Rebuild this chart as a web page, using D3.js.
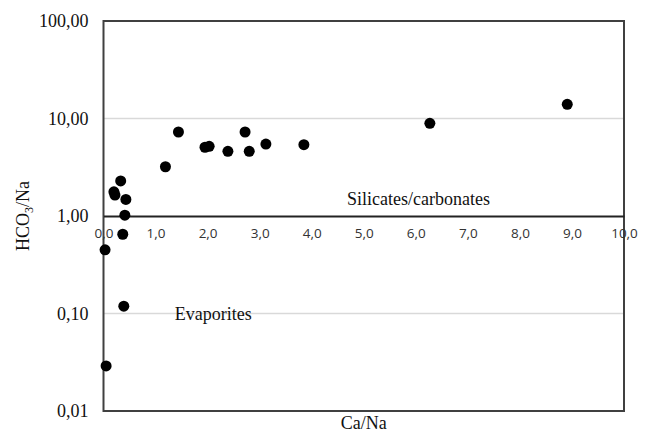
<!DOCTYPE html>
<html>
<head>
<meta charset="utf-8">
<script src="https://cdn.jsdelivr.net/npm/d3@7"></script>
<style>
  html, body { margin: 0; padding: 0; background: #fff; }
  svg { display: block; }
</style>
</head>
<body>
<svg id="chart" width="646" height="432"></svg>
<script>
// Ca/Na ratio of each sample
const caNa = [0.20, 0.22, 0.33, 0.43, 0.41, 0.37, 0.03, 0.39, 0.05, 1.19,
              1.44, 1.95, 2.03, 2.39, 2.72, 2.80, 3.12, 3.85, 6.27, 8.91];
// HCO3/Na ratio of each sample
const hco3Na = [1.77, 1.64, 2.29, 1.48, 1.02, 0.65, 0.45, 0.119, 0.029, 3.20,
                7.27, 5.07, 5.19, 4.61, 7.27, 4.61, 5.47, 5.39, 8.93, 13.99];
const xTicks = [0, 1, 2, 3, 4, 5, 6, 7, 8, 9, 10];
const yTicks = [0.01, 0.1, 1, 10, 100];
const regionLabels = [
  { text: "Silicates/carbonates", x: 4.68, y: 1.5 },
  { text: "Evaporites", x: 1.37, y: 0.1 }
];

const svg = d3.select("#chart");
const plotLeft = 103.5, plotRight = 624, plotTop = 21, plotBottom = 411;

const x = d3.scaleLinear().domain([0, 10]).range([plotLeft, plotRight]);
const y = d3.scaleLog().domain([0.01, 100]).range([plotBottom, plotTop]);

const comma = v => v.toFixed(1).replace(".", ",");
const comma2 = v => v.toFixed(2).replace(".", ",");

// light gridlines
svg.append("g")
  .selectAll("line")
  .data([0.1, 10])
  .join("line")
  .attr("x1", plotLeft).attr("x2", plotRight)
  .attr("y1", d => y(d)).attr("y2", d => y(d))
  .attr("stroke", "#d9d9d9").attr("stroke-width", 1.5);

// plot frame
svg.append("rect")
  .attr("x", plotLeft).attr("y", plotTop)
  .attr("width", plotRight - plotLeft).attr("height", plotBottom - plotTop)
  .attr("fill", "none").attr("stroke", "#404040").attr("stroke-width", 2);

// y axis (log) labels
const yAxis = d3.axisLeft(y).tickValues(yTicks).tickFormat(comma2).tickSize(0).tickPadding(15);
svg.append("g")
  .attr("transform", `translate(${plotLeft},0)`)
  .call(yAxis)
  .call(g => g.select(".domain").remove())
  .call(g => g.selectAll("text")
    .attr("font-family", "Liberation Serif, Times New Roman, serif")
    .attr("font-size", 18).attr("fill", "#111"));

// x axis crossing at HCO3/Na = 1
const xAxis = d3.axisBottom(x).tickValues(xTicks).tickFormat(comma).tickSize(0).tickPadding(12);
svg.append("g")
  .attr("transform", `translate(0,${y(1)})`)
  .call(xAxis)
  .call(g => g.select(".domain").attr("stroke", "#222").attr("stroke-width", 2))
  .call(g => g.selectAll("text")
    .attr("font-family", "Open Sans, Liberation Sans, sans-serif")
    .attr("font-size", 13.5).attr("fill", "#333"));

// region labels
svg.append("g")
  .selectAll("text")
  .data(regionLabels)
  .join("text")
  .attr("x", d => x(d.x)).attr("y", d => y(d.y))
  .attr("dy", "0.35em")
  .attr("font-family", "Liberation Serif, Times New Roman, serif")
  .attr("font-size", 18).attr("fill", "#111")
  .text(d => d.text);

// axis titles
svg.append("text")
  .attr("x", (plotLeft + plotRight) / 2)
  .attr("y", 429)
  .attr("text-anchor", "middle")
  .attr("font-family", "Liberation Serif, Times New Roman, serif")
  .attr("font-size", 18).attr("fill", "#111")
  .text("Ca/Na");

const yTitle = svg.append("text")
  .attr("transform", `translate(29,${y(1)}) rotate(-90)`)
  .attr("text-anchor", "middle")
  .attr("font-family", "Liberation Serif, Times New Roman, serif")
  .attr("font-size", 18).attr("fill", "#111");
yTitle.append("tspan").text("HCO");
yTitle.append("tspan").attr("font-size", 12).attr("dy", 4).text("3");
yTitle.append("tspan").attr("dy", -4).text("/Na");

// sample points
svg.append("g")
  .selectAll("circle")
  .data(caNa.map((v, i) => [v, hco3Na[i]]))
  .join("circle")
  .attr("cx", d => x(d[0])).attr("cy", d => y(d[1]))
  .attr("r", 5.5).attr("fill", "#000");
</script>
</body>
</html>
